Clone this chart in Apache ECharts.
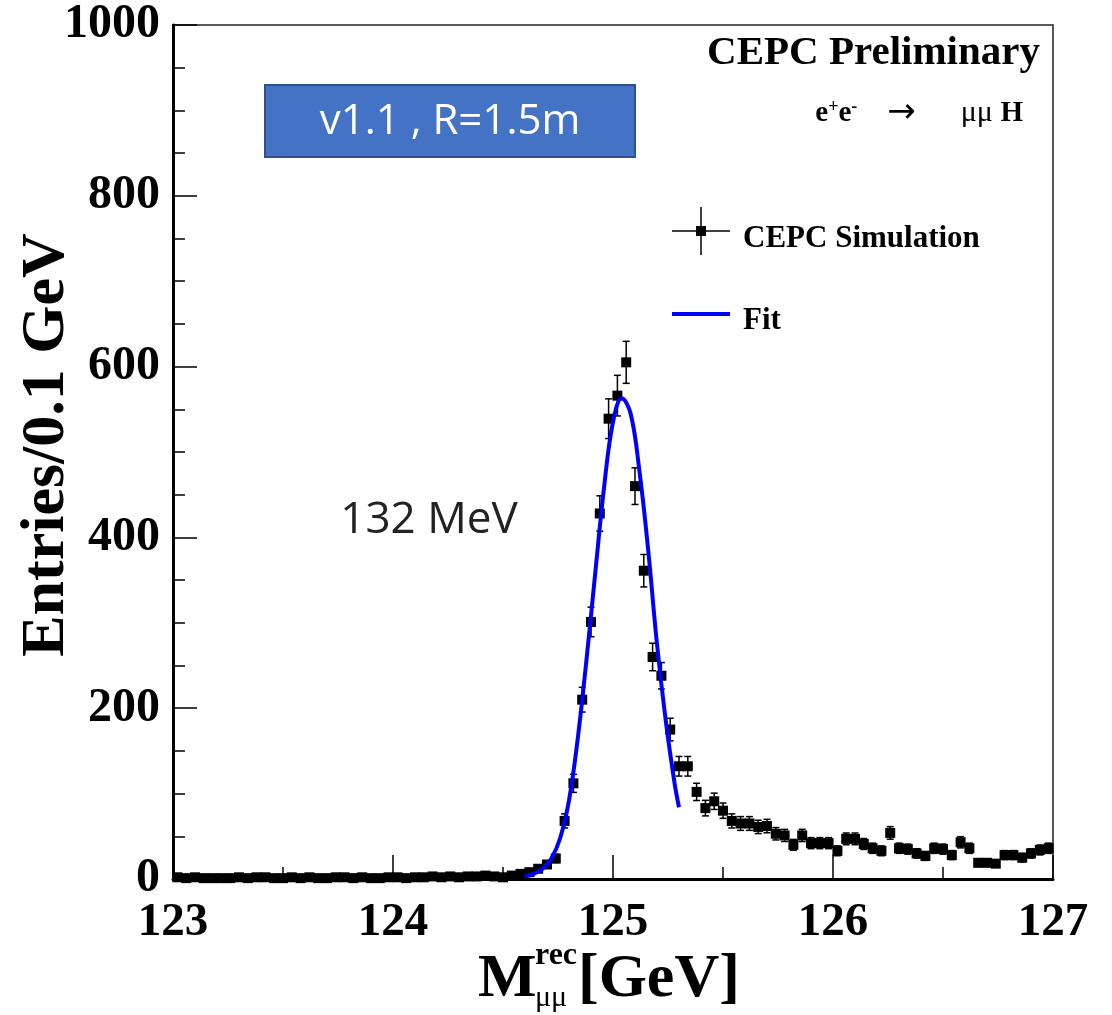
<!DOCTYPE html>
<html>
<head>
<meta charset="utf-8">
<script src="https://cdn.jsdelivr.net/npm/echarts@6/dist/echarts.min.js"></script>
<style>
html,body{margin:0;padding:0;background:#fff;}
#chart{width:1112px;height:1015px;}
</style>
</head>
<body>
<div id="chart"></div>
<script>
// Histogram: 100 bins of 0.04 GeV from 123 to 127
const binLow = 123;
const binWidth = 0.04;
const counts = [
  2, 1, 2, 1, 1, 1, 1, 2, 1, 2,
  2, 1, 1, 2, 1, 2, 1, 1, 2, 2,
  1, 2, 1, 1, 2, 2, 1, 2, 2, 3,
  2, 3, 2, 3, 3, 4, 3, 2, 4, 6,
  8, 12, 17, 24, 68, 112, 210, 301, 428, 539,
  566, 605, 460, 361, 260, 238, 175, 132, 132, 102,
  83, 91, 80, 68, 65, 65, 61, 62, 53, 51,
  40, 51, 42, 42, 42, 33, 47, 47, 41, 36,
  33, 54, 36, 35, 30, 27, 36, 35, 28, 43,
  36, 19, 19, 18, 28, 28, 25, 30, 34, 36
];
// Fit curve
const fitX = [124.60, 124.64, 124.68, 124.72, 124.76, 124.80, 124.84, 124.88, 124.92, 124.96, 125.00, 125.04, 125.08, 125.12, 125.16, 125.20, 125.24, 125.28, 125.30];
const fitY = [3, 6, 12, 24, 48, 92, 165, 258, 360, 460, 535, 563, 545, 478, 385, 275, 185, 112, 84];
const xTickLabels = ['123', '124', '125', '126', '127'];
const yTickLabels = ['0', '200', '400', '600', '800', '1000'];

const serif = '"Liberation Serif", "Times New Roman", serif';
const points = counts.map((c, i) => [binLow + binWidth * (i + 0.5), c, Math.sqrt(c)]);
const fitData = fitX.map((x, i) => [x, fitY[i]]);

const chart = echarts.init(document.getElementById('chart'), null, {renderer: 'canvas'});
chart.setOption({
  animation: false,
  backgroundColor: '#fff',
  grid: {left: 173, right: 59, top: 25, bottom: 136, show: true, borderColor: '#222', borderWidth: 1.5, backgroundColor: 'transparent'},
  xAxis: {
    type: 'value', min: 123, max: 127, interval: 1,
    axisLine: {show: true, onZero: false, lineStyle: {color: '#000', width: 3}},
    axisTick: {show: true, inside: true, length: 24, lineStyle: {color: '#000', width: 1.5}},
    minorTick: {show: true, splitNumber: 2, length: 12, lineStyle: {color: '#000', width: 1.5}},
    splitLine: {show: false},
    axisLabel: {
      margin: 20, color: '#000', fontFamily: serif, fontWeight: 'bold', fontSize: 47,
      formatter: v => xTickLabels[Math.round(v - 123)]
    }
  },
  yAxis: {
    type: 'value', min: 0, max: 1000, interval: 200,
    axisLine: {show: true, onZero: false, lineStyle: {color: '#000', width: 3}},
    axisTick: {show: true, inside: true, length: 24, lineStyle: {color: '#000', width: 1.5}},
    minorTick: {show: true, splitNumber: 4, length: 12, lineStyle: {color: '#000', width: 1.5}},
    splitLine: {show: false},
    axisLabel: {
      margin: 13, color: '#000', fontFamily: serif, fontWeight: 'bold', fontSize: 48,
      formatter: v => yTickLabels[Math.round(v / 200)]
    }
  },
  series: [
    {
      type: 'custom', z: 3,
      data: points,
      renderItem: function (params, api) {
        const x = api.value(0), y = api.value(1), e = api.value(2);
        const top = api.coord([x, y + e]);
        const bot = api.coord([x, y - e]);
        const cap = 3.5;
        const st = {stroke: '#000', lineWidth: 1.5};
        return {type: 'group', children: [
          {type: 'line', shape: {x1: top[0], y1: top[1], x2: bot[0], y2: bot[1]}, style: st},
          {type: 'line', shape: {x1: top[0] - cap, y1: top[1], x2: top[0] + cap, y2: top[1]}, style: st},
          {type: 'line', shape: {x1: bot[0] - cap, y1: bot[1], x2: bot[0] + cap, y2: bot[1]}, style: st}
        ]};
      }
    },
    {
      type: 'scatter', z: 4, symbol: 'rect', symbolSize: 10,
      itemStyle: {color: '#000', opacity: 1},
      emphasis: {disabled: true},
      data: points.map(p => [p[0], p[1]])
    },
    {
      type: 'line', z: 5, smooth: 0.4, showSymbol: false,
      lineStyle: {color: '#0000ff', width: 4},
      data: fitData
    }
  ],
  graphic: [
    // Info box
    {type: 'rect', shape: {x: 265, y: 85, width: 370, height: 72}, style: {fill: '#4472C4', stroke: '#2F528F', lineWidth: 2}, z: 10},
    {type: 'text', x: 450, y: 122, style: {text: 'v1.1 , R=1.5m', fill: '#fff', font: '42px "Open Sans", sans-serif', textAlign: 'center', textVerticalAlign: 'middle'}, z: 11},
    {type: 'text', x: 429, y: 520, style: {text: '132 MeV', fill: '#222', font: '44px "Open Sans", sans-serif', textAlign: 'center', textVerticalAlign: 'middle'}, z: 11},
    // Titles
    {type: 'text', x: 1040, y: 53, style: {text: 'CEPC Preliminary', fill: '#000', font: 'bold 41px ' + serif, textAlign: 'right', textVerticalAlign: 'middle'}, z: 11},
    {type: 'text', x: 1023, y: 113, z: 11, style: {
      text: '{b|e}{s|+}{b|e}{s|-}{n|    }{a|→}{n|      μμ }{b|H}',
      textAlign: 'right', textVerticalAlign: 'middle',
      rich: {
        b: {font: 'bold 29px ' + serif, fill: '#000', verticalAlign: 'bottom', lineHeight: 30},
        s: {font: 'bold 18px ' + serif, fill: '#000', verticalAlign: 'top', lineHeight: 18},
        n: {font: '30px ' + serif, fill: '#000', verticalAlign: 'bottom', lineHeight: 30},
        a: {font: '34px "DejaVu Sans", sans-serif', fill: '#000', verticalAlign: 'middle', lineHeight: 30}
      }
    }},
    // Legend
    {type: 'line', shape: {x1: 672, y1: 231, x2: 730, y2: 231}, style: {stroke: '#000', lineWidth: 1.5}, z: 11},
    {type: 'line', shape: {x1: 701, y1: 207, x2: 701, y2: 255}, style: {stroke: '#000', lineWidth: 1.5}, z: 11},
    {type: 'rect', shape: {x: 696, y: 226, width: 10, height: 10}, style: {fill: '#000'}, z: 12},
    {type: 'text', x: 743, y: 239, style: {text: 'CEPC Simulation', fill: '#000', font: 'bold 31px ' + serif, textAlign: 'left', textVerticalAlign: 'middle'}, z: 11},
    {type: 'line', shape: {x1: 672, y1: 314, x2: 730, y2: 314}, style: {stroke: '#0000ff', lineWidth: 4}, z: 11},
    {type: 'text', x: 743, y: 321, style: {text: 'Fit', fill: '#000', font: 'bold 31px ' + serif, textAlign: 'left', textVerticalAlign: 'middle'}, z: 11},
    // Y axis title
    {type: 'text', x: 47, y: 445, rotation: Math.PI / 2, style: {text: 'Entries/0.1 GeV', fill: '#000', font: 'bold 62px ' + serif, textAlign: 'center', textVerticalAlign: 'middle'}, z: 11},
    // X axis title
    {type: 'text', x: 478, y: 980, style: {text: 'M', fill: '#000', font: 'bold 62px ' + serif, textAlign: 'left', textVerticalAlign: 'middle'}, z: 11},
    {type: 'text', x: 535, y: 956, style: {text: 'rec', fill: '#000', font: 'bold 32px ' + serif, textAlign: 'left', textVerticalAlign: 'middle'}, z: 11},
    {type: 'text', x: 535, y: 998, style: {text: 'μμ', fill: '#000', font: '30px ' + serif, textAlign: 'left', textVerticalAlign: 'middle'}, z: 11},
    {type: 'text', x: 578, y: 980, style: {text: '[GeV]', fill: '#000', font: 'bold 62px ' + serif, textAlign: 'left', textVerticalAlign: 'middle'}, z: 11}
  ]
});
</script>
</body>
</html>
